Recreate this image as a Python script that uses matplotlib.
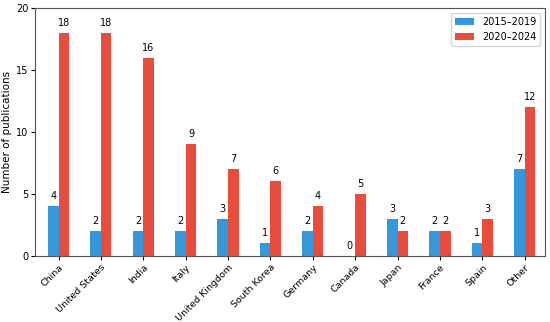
import numpy as np
import matplotlib.pyplot as plt

countries = ['China', 'United States', 'India', 'Italy', 'United Kingdom', 'South Korea',
             'Germany', 'Canada', 'Japan', 'France', 'Spain', 'Other']
early = [4, 2, 2, 2, 3, 1, 2, 0, 3, 2, 1, 7]
late = [18, 18, 16, 9, 7, 6, 4, 5, 2, 2, 3, 12]

x = np.arange(len(countries))
w = 0.25

fig = plt.figure(figsize=[5.5, 3.22], dpi=100)
ax = fig.add_axes([0.064, 0.206, 0.927, 0.769])

b1 = ax.bar(x - w/2, early, w, color='#3498db', label='2015–2019')
b2 = ax.bar(x + w/2, late, w, color='#e74c3c', label='2020–2024')

for bars in (b1, b2):
    for r in bars:
        h = r.get_height()
        ax.text(r.get_x() + r.get_width()/2, h + 0.4, f'{int(h)}',
                ha='center', va='bottom', fontsize=7)

ax.set_xticks(x)
ax.set_xticklabels(countries, rotation=45, ha='right', rotation_mode='anchor', fontsize=6.8)
ax.tick_params(length=3, pad=2)
ax.tick_params(axis='y', labelsize=7)
ax.set_ylabel('Number of publications', fontsize=7.5, labelpad=3)
ax.set_ylim(0, 20)
ax.set_yticks([0, 5, 10, 15, 20])
ax.set_xlim(-0.55, 11.48)
for s in ax.spines.values():
    s.set_edgecolor('#555555')
ax.legend(loc='upper right', fontsize=7)

fig.savefig('out.png', dpi=100)
plt.close(fig)
